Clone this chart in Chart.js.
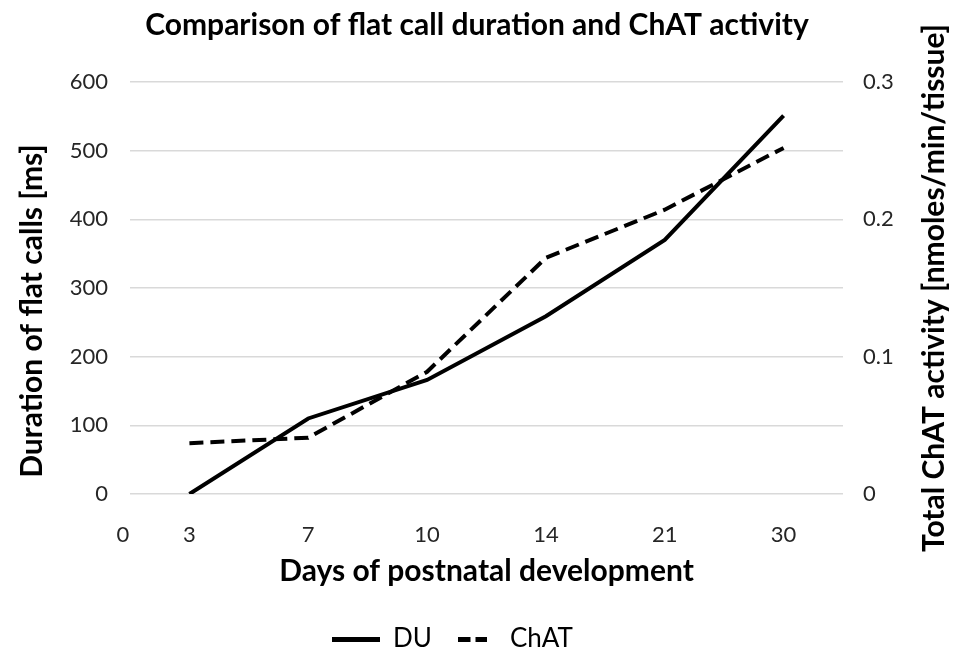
<!DOCTYPE html>
<html>
<head>
<meta charset="utf-8">
<script src="https://cdn.jsdelivr.net/npm/chart.js@4.4.1/dist/chart.umd.min.js"></script>
<style>
  html, body { margin: 0; padding: 0; background: #fff; }
  #wrap { width: 954px; height: 652px; }
</style>
</head>
<body>
<div id="wrap"><canvas id="chart"></canvas></div>
<script>
// data
var days = ['3', '7', '10', '14', '21', '30'];
var xTickLabels = ['0', '3', '7', '10', '14', '21', '30'];
var duValues = [0, 110, 166, 259, 370, 551];            // ms
var chatValues = [0.037, 0.041, 0.089, 0.172, 0.207, 0.252]; // nmoles/min/tissue

var FONT = 'Lato';
var INK = '#000';
var TICK = '#262626';

// x positions are the category index (1..6), "0" sits at the left edge
function toPoints(values) {
  return values.map(function (v, i) { return { x: i + 1, y: v }; });
}

// small legend samples: solid line and "- -"
function legendSample(dashes) {
  var c = document.createElement('canvas');
  c.width = dashes ? 29 : 48;
  c.height = 5;
  var g = c.getContext('2d');
  g.fillStyle = INK;
  if (dashes) {
    g.fillRect(0, 0, 12, 5);
    g.fillRect(17, 0, 12, 5);
  } else {
    g.fillRect(0, 0, 48, 5);
  }
  return c;
}

// vertical axis titles, both reading bottom-to-top (Excel style)
var sideTitles = {
  id: 'sideTitles',
  afterDraw: function (chart) {
    var ctx = chart.ctx;
    var a = chart.chartArea;
    function vText(txt, x, y) {
      ctx.save();
      ctx.translate(x, y);
      ctx.rotate(-Math.PI / 2);
      ctx.font = 'bold 30px ' + FONT;
      ctx.fillStyle = INK;
      ctx.textAlign = 'center';
      ctx.textBaseline = 'middle';
      ctx.fillText(txt, 0, 0);
      ctx.restore();
    }
    vText('Duration of flat calls [ms]', 32, a.top + 229);
    vText('Total ChAT activity [nmoles/min/tissue]', 934, (a.top + a.bottom) / 2);
  }
};

// nudge legend a bit left and down
var legendNudge = {
  id: 'legendNudge',
  afterLayout: function (chart) {
    var lg = chart.legend;
    lg.left -= 49;
    lg.top += 10;
    lg.bottom += 10;
  }
};

var ctx = document.getElementById('chart').getContext('2d');
var myChart = new Chart(ctx, {
  type: 'line',
  data: {
    datasets: [
      {
        label: 'DU',
        data: toPoints(duValues),
        borderColor: INK,
        borderWidth: 4,
        pointRadius: 0,
        pointStyle: legendSample(false),
        tension: 0,
        yAxisID: 'y'
      },
      {
        label: 'ChAT',
        data: toPoints(chatValues),
        borderColor: INK,
        borderWidth: 4,
        borderDash: [14, 7],
        pointRadius: 0,
        pointStyle: legendSample(true),
        tension: 0,
        yAxisID: 'y1'
      }
    ]
  },
  options: {
    responsive: true,
    maintainAspectRatio: false,
    animation: false,
    layout: { padding: 0 },
    plugins: {
      title: {
        display: true,
        text: 'Comparison of flat call duration and ChAT activity',
        color: INK,
        font: { family: FONT, size: 30, weight: 'bold' },
        padding: { top: 7, bottom: 39 }
      },
      legend: {
        position: 'bottom',
        labels: {
          color: INK,
          font: { family: FONT, size: 26 },
          usePointStyle: true,
          pointStyleWidth: 48,
          padding: 17
        }
      },
      tooltip: { enabled: false }
    },
    scales: {
      x: {
        type: 'linear',
        min: 0.5,
        max: 6.5,
        grid: { display: false },
        border: { display: false },
        afterBuildTicks: function (axis) {
          axis.ticks = [0.44, 1, 2, 3, 4, 5, 6].map(function (v) { return { value: v }; });
        },
        afterFit: function (axis) { axis.height = 105; },
        ticks: {
          color: TICK,
          font: { family: FONT, size: 22 },
          padding: 20,
          autoSkip: false,
          maxRotation: 0,
          callback: function (v, i) { return xTickLabels[i]; }
        },
        title: {
          display: true,
          text: 'Days of postnatal development',
          color: INK,
          font: { family: FONT, size: 30, weight: 'bold' },
          padding: { top: 10, bottom: 10 }
        }
      },
      y: {
        position: 'left',
        min: 0,
        max: 600,
        afterFit: function (axis) { axis.width = 130; },
        grid: { color: '#d9d9d9', lineWidth: 1.5, drawTicks: false },
        border: { display: false },
        ticks: {
          stepSize: 100,
          color: TICK,
          font: { family: FONT, size: 22 },
          padding: 22
        }
      },
      y1: {
        position: 'right',
        min: 0,
        max: 0.3,
        afterFit: function (axis) { axis.width = 111; },
        grid: { display: false },
        border: { display: false },
        ticks: {
          stepSize: 0.1,
          color: TICK,
          font: { family: FONT, size: 22 },
          padding: 12
        }
      }
    }
  },
  plugins: [sideTitles, legendNudge]
});
</script>
</body>
</html>
